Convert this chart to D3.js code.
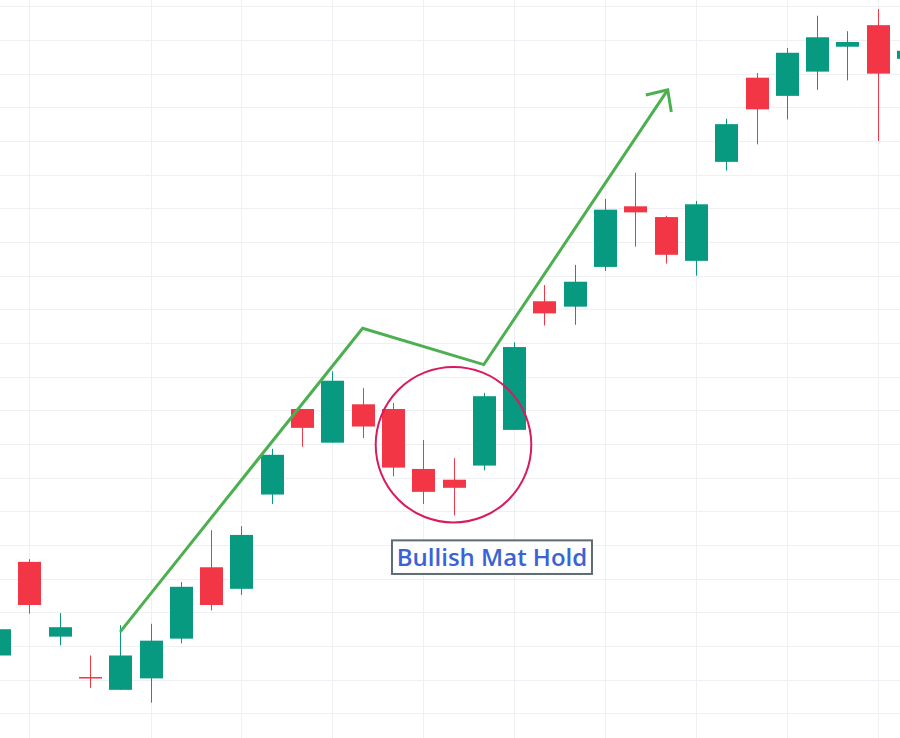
<!DOCTYPE html>
<html>
<head>
<meta charset="utf-8">
<script src="https://cdn.jsdelivr.net/npm/d3@7"></script>
<style>
  html, body { margin: 0; padding: 0; background: #ffffff; }
  svg { display: block; }
</style>
</head>
<body>
<div id="chart"></div>
<script>
// candle index (one per session), -1 is the half-visible one at the left edge
var idx   = [-1, 0, 1, 2, 3, 4, 5, 6, 7, 8, 9, 10, 11, 12, 13, 14, 15, 16, 17, 18, 19, 20, 21, 22, 23, 24, 25, 26, 27, 28, 29];
var open  = [118.6, 132.5, 121.4, 115.4, 113.5, 115.2, 121.1, 131.7, 128.5, 142.5, 155.2, 150.2, 155.9, 155.2, 146.3, 144.7, 146.8, 152.1, 171.2, 170.4, 176.3, 185.3, 183.7, 177.2, 191.9, 204.4, 201.7, 205.3, 209.0, 212.2, 207.2];
var high  = [122.5, 132.9, 124.9, 118.6, 123.1, 123.3, 129.5, 137.2, 137.8, 149.3, 155.2, 160.8, 158.3, 156.1, 150.6, 147.9, 157.6, 165.1, 173.6, 176.6, 186.4, 190.3, 183.9, 186.1, 198.3, 205.1, 208.8, 213.6, 211.3, 214.6, 208.4];
var low   = [118.6, 124.8, 120.1, 113.8, 113.5, 111.6, 120.4, 125.3, 127.6, 141.1, 149.6, 150.2, 150.9, 145.2, 141.1, 139.4, 146.1, 152.1, 167.6, 167.7, 175.7, 179.3, 176.8, 175.0, 190.6, 194.5, 198.2, 202.6, 204.0, 195.0, 207.2];
var close = [122.5, 126.1, 122.8, 115.25, 118.6, 120.8, 128.8, 126.1, 136.5, 148.4, 152.4, 159.4, 152.6, 146.5, 142.9, 143.5, 157.1, 164.4, 169.4, 174.1, 184.8, 184.4, 178.1, 185.6, 197.5, 199.7, 208.1, 210.4, 209.7, 205.0, 208.4];

// grid
var timeGrid  = [0, 4, 7, 10, 13, 16, 19, 22, 25, 28];
var priceGrid = d3.range(110, 216, 5);

// annotations (index, price)
var trendPath = [[3, 122.1], [11, 167.2], [15, 161.8], [21.07, 202.6]];
var circleAt  = [14, 149.9];
var labelAt   = [15.27, 133.2];
var labelText = 'Bullish Mat Hold';

var width = 900, height = 738;
var up = '#089981', down = '#f23645';

var candles = idx.map(function(d, i) {
  return {i: d, o: open[i], h: high[i], l: low[i], c: close[i]};
});

var x = d3.scaleLinear().domain([0, 28]).range([29.3, 877.7]);
var y = d3.scaleLinear().domain([110, 215]).range([713.4, 6.3]);
var bodyW = 23;

var svg = d3.select('#chart')
  .append('svg')
  .attr('width', width)
  .attr('height', height);

// grid lines
svg.append('g')
  .selectAll('line')
  .data(priceGrid)
  .enter()
  .append('line')
  .attr('x1', 0)
  .attr('x2', width)
  .attr('y1', function(d) { return Math.round(y(d)) + 0.5; })
  .attr('y2', function(d) { return Math.round(y(d)) + 0.5; })
  .attr('stroke', '#eef0f3')
  .attr('stroke-width', 1);

svg.append('g')
  .selectAll('line')
  .data(timeGrid)
  .enter()
  .append('line')
  .attr('y1', 0)
  .attr('y2', height)
  .attr('x1', function(d) { return Math.round(x(d)) + 0.5; })
  .attr('x2', function(d) { return Math.round(x(d)) + 0.5; })
  .attr('stroke', '#eef0f3')
  .attr('stroke-width', 1);

// candles
var g = svg.append('g')
  .selectAll('g')
  .data(candles)
  .enter()
  .append('g');

g.append('line')
  .attr('x1', function(d) { return Math.round(x(d.i)) + 0.5; })
  .attr('x2', function(d) { return Math.round(x(d.i)) + 0.5; })
  .attr('y1', function(d) { return y(d.h); })
  .attr('y2', function(d) { return y(d.l); })
  .attr('stroke', function(d) { return d.c >= d.o ? up : down; })
  .attr('stroke-width', 1);

g.append('rect')
  .attr('x', function(d) { return Math.round(x(d.i)) + 0.5 - bodyW / 2; })
  .attr('width', bodyW)
  .attr('y', function(d) { return y(Math.max(d.o, d.c)); })
  .attr('height', function(d) { return Math.max(1.5, Math.abs(y(d.o) - y(d.c))); })
  .attr('fill', function(d) { return d.c >= d.o ? up : down; });

// trend arrow
var pts = trendPath.map(function(p) { return [x(p[0]), y(p[1])]; });
svg.append('path')
  .attr('d', d3.line()(pts))
  .attr('fill', 'none')
  .attr('stroke', '#4caf50')
  .attr('stroke-width', 3)
  .attr('stroke-linejoin', 'miter');

var tip = pts[pts.length - 1], prev = pts[pts.length - 2];
var back = Math.atan2(prev[1] - tip[1], prev[0] - tip[0]);
var armLen = 22.5, spread = 43 * Math.PI / 180;
var armA = [tip[0] + armLen * Math.cos(back + spread), tip[1] + armLen * Math.sin(back + spread)];
var armB = [tip[0] + armLen * Math.cos(back - spread), tip[1] + armLen * Math.sin(back - spread)];
svg.append('path')
  .attr('d', d3.line()([armA, tip, armB]))
  .attr('fill', 'none')
  .attr('stroke', '#4caf50')
  .attr('stroke-width', 3)
  .attr('stroke-linejoin', 'miter');

// pattern circle
svg.append('circle')
  .attr('cx', x(circleAt[0]))
  .attr('cy', y(circleAt[1]))
  .attr('r', 77.8)
  .attr('fill', 'none')
  .attr('stroke', '#d81b60')
  .attr('stroke-width', 2);

// label box
var lab = svg.append('g')
  .attr('transform', 'translate(' + x(labelAt[0]) + ',' + y(labelAt[1]) + ')');
lab.append('rect')
  .attr('x', -100)
  .attr('y', -16.8)
  .attr('width', 200)
  .attr('height', 33.6)
  .attr('fill', '#ffffff')
  .attr('stroke', '#5f6b73')
  .attr('stroke-width', 2);
lab.append('text')
  .attr('text-anchor', 'middle')
  .attr('dy', '0.36em')
  .attr('font-family', '"Open Sans", sans-serif')
  .attr('font-weight', 600)
  .attr('font-size', '24px')
  .attr('fill', '#3a63d6')
  .text(labelText);
</script>
</body>
</html>
